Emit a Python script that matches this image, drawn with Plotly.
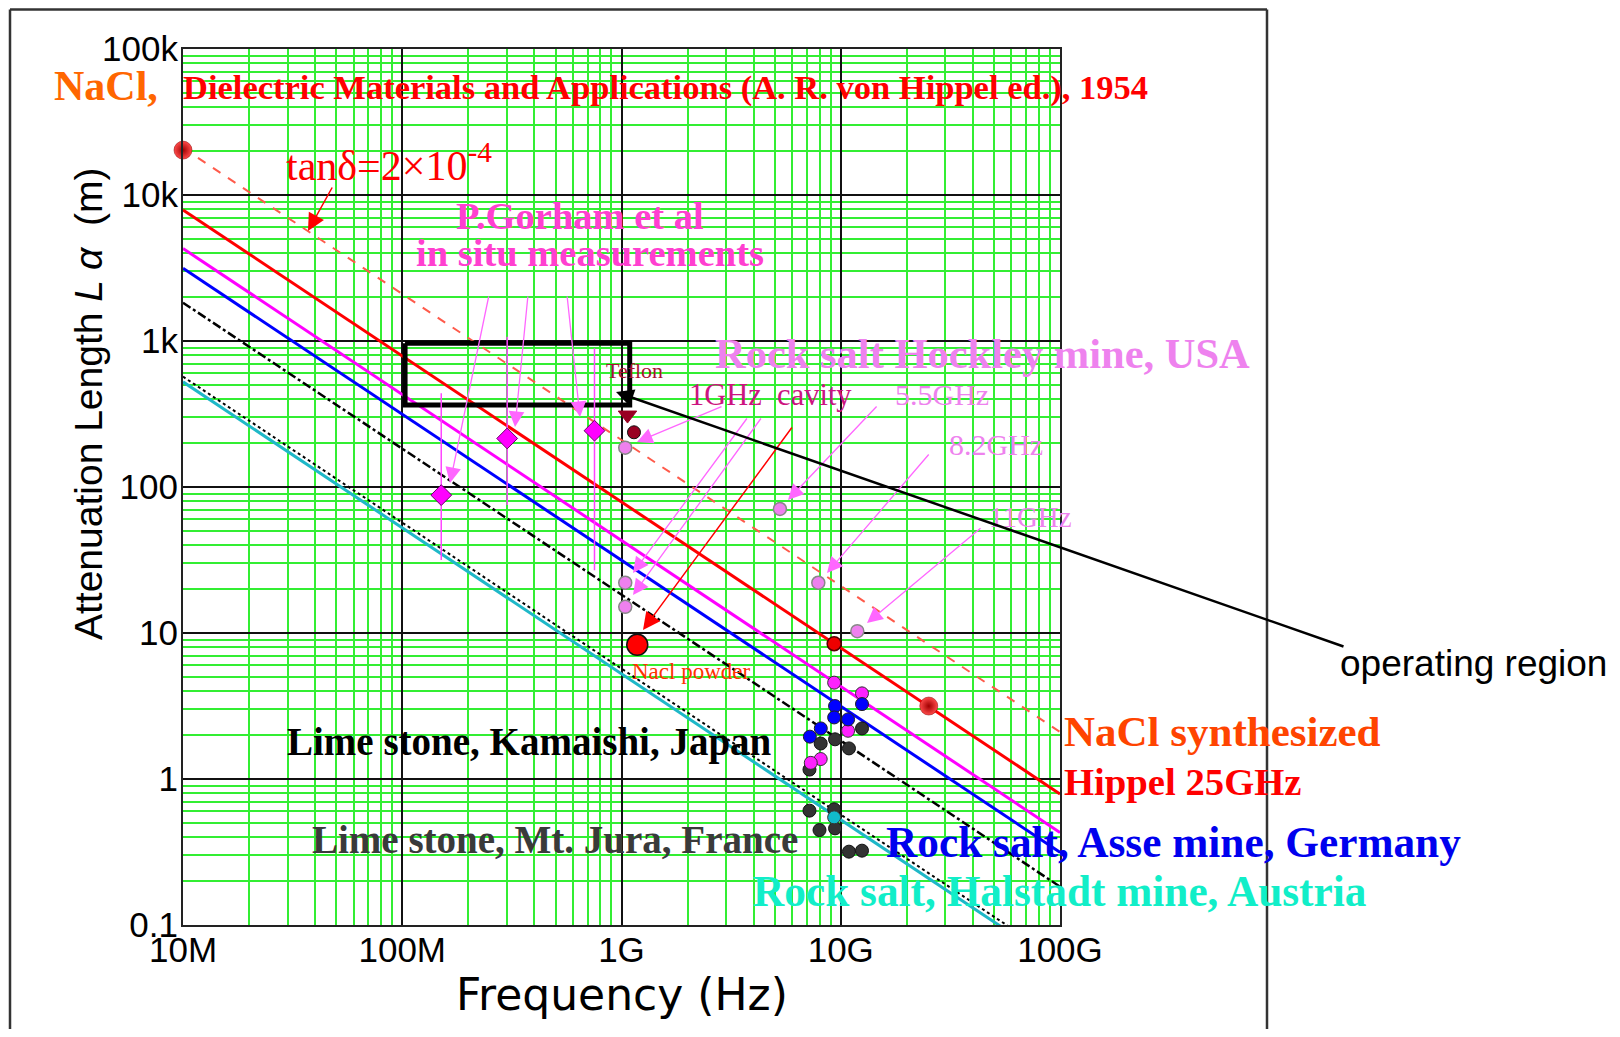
import plotly.graph_objects as go

# ---------------- DATA ----------------
# Straight reference lines on log-log axes (end points): frequency (Hz), attenuation length (m)
tand_f = [1e7, 1e11];        tand_L = [21000, 2.1]          # tan delta = 2e-4 (dashed)
hippel_f = [1e7, 1e11];      hippel_L = [7900, 0.79]        # NaCl Hippel
hockley_f = [1e7, 1e11];     hockley_L = [4300, 0.43]       # Hockley mine
asse_f = [1e7, 1e11];        asse_L = [3150, 0.315]         # Asse mine
kamaishi_f = [1e7, 1e11];    kamaishi_L = [1830, 0.183]     # Lime stone Kamaishi (dash-dot)
jura_f = [1e7, 1e11];        jura_L = [570, 0.057]          # Lime stone Mt. Jura (dotted)
halstadt_f = [1e7, 1e11];    halstadt_L = [525, 0.0525]     # Halstadt mine

# Hippel spheres
sphere_f = [1e7, 2.52e10];   sphere_L = [20300, 3.16]

# P. Gorham in situ measurements
gorham_f = [1.506e8, 3.01e8, 7.53e8]
gorham_L = [88, 215, 243]
gorham_hi = [438, 1070, 891]
gorham_lo = [31.6, 75.4, 26.9]

# Hockley mine cavity measurements
hock_pts_f = [1.04e9, 1.04e9, 1.04e9, 5.28e9, 7.9e9, 1.19e10]
hock_pts_L = [186, 22.1, 15.1, 70.7, 22.1, 10.3]

teflon_f = [1.14e9];   teflon_L = [237]
teflon_tri_f = [1.065e9]; teflon_tri_L = [311]
powder_f = [1.18e9];   powder_L = [8.3]
synth_f = [9.33e9];    synth_L = [8.45]

# Cluster around 10 GHz
mag_f = [9.33e9, 1.25e10, 1.08e10, 8.1e9, 7.3e9]
mag_L = [4.57, 3.86, 2.14, 1.37, 1.29]
blue_f = [1.25e10, 9.42e9, 9.33e9, 1.08e10, 8.11e9, 7.23e9]
blue_L = [3.26, 3.16, 2.64, 2.56, 2.22, 1.95]
dark_f = [1.25e10, 9.42e9, 8.1e9, 1.09e10, 7.2e9, 7.2e9, 9.33e9, 8.0e9, 9.42e9, 1.09e10, 1.25e10]
dark_L = [2.22, 1.87, 1.75, 1.62, 1.16, 0.607, 0.62, 0.447, 0.459, 0.318, 0.323]
cyan_f = [9.33e9]; cyan_L = [0.546]

# Operating region box
box_f = [1.03e8, 1.09e9]; box_L = [365, 964]

x_tickvals = [1e7, 1e8, 1e9, 1e10, 1e11]
x_ticktext = ['10M', '100M', '1G', '10G', '100G']
y_tickvals = [0.1, 1, 10, 100, 1e3, 1e4, 1e5]
y_ticktext = ['0.1', '1', '10', '100', '1k', '10k', '100k']

# ---------------- LAYOUT HELPERS ----------------
OFF = 8                     # default page margin around the figure
W, H = 1604, 1021
ML, MR, MT, MB = 175, 552, 41, 104
PW = W - ML - MR
PH = H - MT - MB

def px(x):
    return (x - OFF - ML) / PW

def py(y):
    return (H - MB - (y - OFF)) / PH

SERIF = 'Liberation Serif, Times New Roman, serif'
SANS = 'Liberation Sans, Arial, sans-serif'

annotations = []

def txt(s, x, y, size, color, family=SERIF, bold=False, xanchor='left', angle=0):
    annotations.append(dict(text=s, x=px(x), y=py(y), xref='paper', yref='paper',
                            showarrow=False, xanchor=xanchor, yanchor='middle', textangle=angle,
                            font=dict(family=family, size=size, color=color,
                                      weight='bold' if bold else 'normal')))

def arrow(tipx, tipy, tailx, taily, color, width, size, head=2):
    annotations.append(dict(text='', x=px(tipx), y=py(tipy), xref='paper', yref='paper',
                            ax=tailx - tipx, ay=taily - tipy, showarrow=True,
                            arrowhead=head, arrowsize=size, arrowwidth=width,
                            arrowcolor=color, standoff=0, startstandoff=0))

fig = go.Figure()

def line(f, L, color, width, dash='solid'):
    fig.add_trace(go.Scatter(x=f, y=L, mode='lines', line=dict(color=color, width=width, dash=dash),
                             hoverinfo='skip'))

line(tand_f, tand_L, '#ff5a4a', 2, 'dash')
line(hippel_f, hippel_L, '#ff0000', 3)
line(hockley_f, hockley_L, '#ff00ff', 3)
line(asse_f, asse_L, '#0000ff', 3)
line(kamaishi_f, kamaishi_L, '#000000', 2.5, 'dashdot')
line(jura_f, jura_L, '#000000', 2, 'dot')
line(halstadt_f, halstadt_L, '#1fb8c8', 3)

# Operating region box
fig.add_trace(go.Scatter(x=[box_f[0], box_f[1], box_f[1], box_f[0], box_f[0]],
                         y=[box_L[1], box_L[1], box_L[0], box_L[0], box_L[1]],
                         mode='lines', line=dict(color='black', width=5), hoverinfo='skip'))

def pts(f, L, color, size, symbol='circle', lc='#222222', lw=1, clip=True, **kw):
    fig.add_trace(go.Scatter(x=f, y=L, mode='markers', cliponaxis=clip,
                             marker=dict(color=color, size=size, symbol=symbol,
                                         line=dict(color=lc, width=lw), **kw),
                             hoverinfo='skip'))

# Gorham diamonds with vertical bars
fig.add_trace(go.Scatter(x=gorham_f, y=gorham_L, mode='markers',
                         marker=dict(symbol='diamond', size=16, color='#ff00ff',
                                     line=dict(color='#660066', width=1)),
                         error_y=dict(type='data', symmetric=False,
                                      array=[h - v for h, v in zip(gorham_hi, gorham_L)],
                                      arrayminus=[v - l for l, v in zip(gorham_lo, gorham_L)],
                                      width=0, color='#ff44ff', thickness=1.5),
                         hoverinfo='skip'))

pts(dark_f, dark_L, '#333333', 13, lc='#111111')
pts(mag_f, mag_L, '#ff22ff', 13, lc='#333333')
pts(blue_f, blue_L, '#0000ff', 13, lc='#222222')
pts(cyan_f, cyan_L, '#11bbcc', 13, lc='#333333')
pts(hock_pts_f, hock_pts_L, '#ee80ee', 13, lc='#888888', lw=1.5)
pts(teflon_tri_f, teflon_tri_L, '#990022', 16, symbol='triangle-down', lc='#990022')
pts(teflon_f, teflon_L, '#990022', 13, lc='#111111')
pts(powder_f, powder_L, '#ff0000', 21, lc='#111111', lw=1.5)
pts(synth_f, synth_L, '#ee0000', 14, lc='#550000', lw=1.5)
pts(sphere_f, sphere_L, '#ff4a4a', 18, lc='#880000', lw=0.5, clip=False,
    gradient=dict(type='radial', color='#a00000'))

# ---------------- TEXT ----------------
txt('NaCl,', 52, 86, 42, '#ff6600', bold=True)
txt('Dielectric Materials and Applications (A. R. von Hippel ed.), 1954', 181, 87, 34.5, '#ff0000', bold=True)
txt('tan\u03b4=2\u00d710<sup>-4</sup>', 284, 163, 42, '#ff0000')
txt('P.Gorham et al', 580, 216, 38.5, '#ff3fd0', bold=True, xanchor='center')
txt('in situ measurements', 590, 253, 38.5, '#ff3fd0', bold=True, xanchor='center')
txt('Rock salt Hockley mine, USA', 713, 353, 42.5, '#ee82ee', bold=True)
txt('Teflon', 604, 370, 22, '#aa1133')
txt('1GHz\u00a0\u00a0cavity', 687, 395, 30.5, '#cc1480')
txt('5.5GHz', 893, 395, 30, '#ee82ee')
txt('8.2GHz', 947, 444, 30, '#ee82ee')
txt('11GHz', 987, 517, 29, '#ee82ee')
txt('Nacl powder', 630, 672, 23, '#ff3300')
txt('NaCl synthesized', 1062, 731, 43, '#ff4400', bold=True)
txt('Hippel 25GHz', 1062, 782, 38.7, '#ff0000', bold=True)
txt('operating region', 1338, 663, 37, '#000000', family=SANS)
txt('Lime stone, Kamaishi, Japan', 285, 742, 39, '#000000', bold=True)
txt('Lime stone, Mt. Jura, France', 310, 839, 39, '#3a3a3a', bold=True)
txt('Rock salt, Asse mine, Germany', 884, 842, 43.3, '#0000ee', bold=True)
txt('Rock salt, Halstadt mine, Austria', 751, 891, 43.3, '#11eec8', bold=True)

# Axis titles
txt('Frequency (Hz)', 621.5, 994, 44, '#000000', family='DejaVu Sans, Liberation Sans, sans-serif', xanchor='center')
txt('Attenuation Length <i>L \u03b1</i>  (m)', 88, 404, 39, '#000000',
    family=SANS, xanchor='center', angle=-90)

# ---------------- ARROWS ----------------
arrow(308, 231, 333, 186, '#ff0000', 1.5, 2.3)                 # tan delta
arrow(450, 483, 489, 295, '#ff66ff', 1.3, 2.4)                 # Gorham
arrow(515, 427, 528, 295, '#ff66ff', 1.3, 2.4)
arrow(580, 417, 567, 295, '#ff66ff', 1.3, 2.4)
arrow(637, 442, 723, 406, '#ff66ff', 1.3, 2.4)                 # 1GHz cavity
arrow(633, 573, 748, 417, '#ff66ff', 1.3, 2.4)
arrow(633, 595, 762, 417, '#ff66ff', 1.3, 2.4)
arrow(788, 500, 878, 405, '#ff66ff', 1.3, 2.4)                 # 5.5GHz
arrow(827, 573, 930, 453, '#ff66ff', 1.3, 2.4)                 # 8.2GHz
arrow(867, 623, 982, 527, '#ff66ff', 1.3, 2.4)                 # 11GHz
arrow(643, 630, 793, 426, '#ff0000', 1.5, 2.3)                 # Nacl powder
arrow(616, 392, 1345, 647, '#000000', 2.5, 1.4)                # operating region

axis_common = dict(type='log', showline=True, mirror=True, linecolor='#222222', linewidth=2,
                   showgrid=True, gridcolor='#111111', gridwidth=1.6, zeroline=False,
                   tickmode='array', ticks='', tickfont=dict(family=SANS, size=35, color='black'))

x_minor = [d * 10 ** k for k in range(7, 11) for d in range(2, 10)]
y_minor = [d * 10 ** k for k in range(-1, 5) for d in range(2, 10)]

frame = dict(color='#333333', width=2.5)
frame_shapes = [
    dict(type='line', xref='paper', yref='paper', x0=px(10), x1=px(1267), y0=py(9.5), y1=py(9.5), line=frame),
    dict(type='line', xref='paper', yref='paper', x0=px(10), x1=px(10), y0=py(9.5), y1=py(1040), line=frame),
    dict(type='line', xref='paper', yref='paper', x0=px(1267), x1=px(1267), y0=py(9.5), y1=py(1040), line=frame),
]

fig.update_layout(
    width=W, height=H,
    margin=dict(l=ML, r=MR, t=MT, b=MB, pad=0),
    paper_bgcolor='white', plot_bgcolor='white',
    showlegend=False,
    xaxis=dict(**axis_common, range=[7, 11], tickvals=x_tickvals, ticktext=x_ticktext,
               ticklabelstandoff=-7,
               minor=dict(tickmode='array', tickvals=x_minor, showgrid=True,
                          gridcolor='#33ee33', gridwidth=1.5)),
    yaxis=dict(**axis_common, range=[-1, 5], tickvals=y_tickvals, ticktext=y_ticktext,
               ticklabelstandoff=-4,
               minor=dict(tickmode='array', tickvals=y_minor, showgrid=True,
                          gridcolor='#33ee33', gridwidth=1.5)),
    annotations=annotations,
    shapes=frame_shapes,
)

fig.write_html('out.html')
